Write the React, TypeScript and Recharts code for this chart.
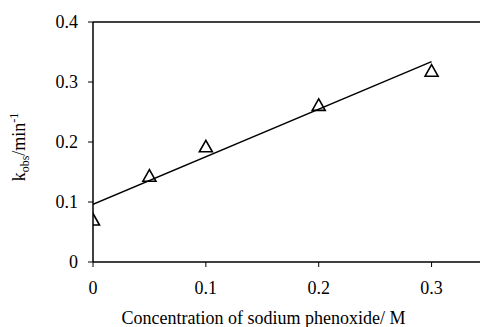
import { ComposedChart, Scatter, XAxis, YAxis, ReferenceLine, Label } from 'recharts'

const concentration = [0, 0.05, 0.1, 0.2, 0.3]
const kObs = [0.07, 0.143, 0.192, 0.261, 0.318]

// least-squares fit line end points
const fitX = [0, 0.3]
const fitY = [0.096, 0.334]

const xTicks = [0, 0.1, 0.2, 0.3]
const yTicks = [0, 0.1, 0.2, 0.3, 0.4]

const points = concentration.map((x, i) => ({ x, y: kObs[i] }))
const fitLine = fitX.map((x, i) => ({ x, y: fitY[i] }))

const FONT = '"Liberation Serif", "Times New Roman", serif'

function Triangle(props: any) {
  const { cx, cy } = props
  if (cx == null || cy == null) return <g />
  const d = `M${cx},${cy - 6.5} L${cx + 6.5},${cy + 5} L${cx - 6.5},${cy + 5} Z`
  return <path d={d} fill="none" stroke="#000" strokeWidth={1.6} strokeLinejoin="miter" />
}

function YLabel() {
  return (
    <text transform="translate(25,147) rotate(-90)" textAnchor="middle" fontFamily={FONT} fontSize={18} fill="#000">
      <tspan>k</tspan>
      <tspan fontSize={12} dy={4}>obs</tspan>
      <tspan dy={-4}>/min</tspan>
      <tspan fontSize={12} dy={-7}>-1</tspan>
    </text>
  )
}

export default function App() {
  return (
    <div style={{ position: 'fixed', left: 0, top: 0, width: 480, height: 327, overflow: 'hidden', background: '#fff' }}>
      <ComposedChart width={488} height={327} margin={{ top: 22, right: 0, left: 0, bottom: 0 }}>
        <XAxis
          type="number"
          dataKey="x"
          domain={[0, 0.35]}
          ticks={xTicks}
          allowDataOverflow
          height={65}
          axisLine={{ stroke: '#000', strokeWidth: 1.5 }}
          tickLine={{ stroke: '#000', strokeWidth: 1 }}
          tickSize={5}
          tickMargin={14}
          tick={{ fill: '#000', fontSize: 18, fontFamily: FONT }}
        >
          <Label
            value="Concentration of sodium phenoxide/ M"
            position="insideBottom"
            offset={3}
            dx={-27}
            style={{ fill: '#000', fontSize: 18, fontFamily: FONT }}
          />
        </XAxis>
        <YAxis
          type="number"
          dataKey="y"
          domain={[0, 0.4]}
          ticks={yTicks}
          width={93}
          axisLine={{ stroke: '#000', strokeWidth: 1.5 }}
          tickLine={{ stroke: '#000', strokeWidth: 1 }}
          tickSize={5}
          tickMargin={10}
          tick={{ fill: '#000', fontSize: 18, fontFamily: FONT }}
          label={<YLabel />}
        />
        <ReferenceLine y={0.4} stroke="#000" strokeWidth={1.5} />
        <Scatter
          data={fitLine}
          line={{ stroke: '#000', strokeWidth: 1.5 }}
          shape={() => <g />}
          isAnimationActive={false}
        />
        <Scatter data={points} shape={<Triangle />} isAnimationActive={false} />
      </ComposedChart>
    </div>
  )
}
